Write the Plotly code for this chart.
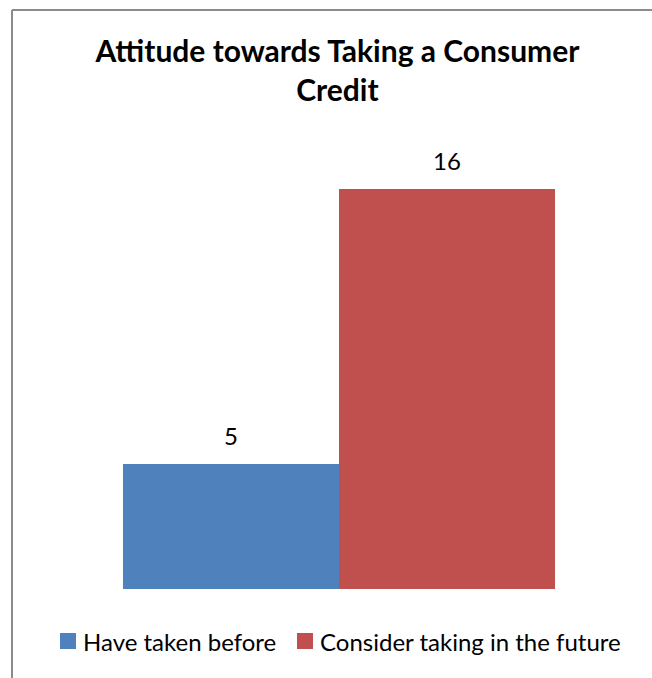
import plotly.graph_objects as go

# Survey result: attitude towards taking a consumer credit
series_names = ["Have taken before", "Consider taking in the future"]
series_values = [5, 16]
series_colors = ["#4F81BD", "#C0504D"]

FONT = "Lato, Carlito, sans-serif"
W, H = 652, 678
L, R, T, B = 45, 19, 139, 89
plot_w = W - L - R
plot_h = H - T - B


def px_x(px):
    """page pixel x -> paper coordinate"""
    return (px - L) / plot_w


def px_y(py):
    """page pixel y -> paper coordinate"""
    return (H - B - py) / plot_h


fig = go.Figure()
for i, (name, val, col) in enumerate(zip(series_names, series_values, series_colors)):
    fig.add_trace(go.Bar(
        x=[i], y=[val], name=name, width=1,
        marker=dict(color=col, line=dict(width=0)),
    ))
    # value label above each bar
    fig.add_annotation(
        x=i, y=val, text=str(val), showarrow=False,
        xanchor="center", yanchor="bottom", yshift=12,
        font=dict(family=FONT, size=24, color="#000000"),
    )

fig.update_layout(
    width=W, height=H,
    margin=dict(l=L, r=R, t=T, b=B, autoexpand=False),
    paper_bgcolor="white", plot_bgcolor="white",
    barmode="overlay",
    title=dict(
        text="<b>Attitude towards Taking a Consumer<br>Credit</b>",
        x=0.5175, xanchor="center", y=0.908, yanchor="top",
        font=dict(family=FONT, size=30, color="#000000"),
    ),
    xaxis=dict(visible=False, range=[-0.861, 1.861]),
    yaxis=dict(visible=False, range=[0, 18]),
    showlegend=False,
)

# legend row under the plot: colour key square followed by the series name
legend_x = [60, 297]
legend_cy = 641
for lx, name, col in zip(legend_x, series_names, series_colors):
    fig.add_shape(type="rect", xref="paper", yref="paper",
                  x0=px_x(lx), x1=px_x(lx + 16),
                  y0=px_y(legend_cy + 8), y1=px_y(legend_cy - 8),
                  fillcolor=col, line=dict(width=0))
    fig.add_annotation(xref="paper", yref="paper",
                       x=px_x(lx + 21), y=px_y(legend_cy),
                       xanchor="left", yanchor="middle", showarrow=False,
                       text=name, font=dict(family=FONT, size=24, color="#000000"))

# outer chart frame (top and left edges visible)
fig.add_shape(type="line", xref="paper", yref="paper",
              x0=px_x(12), x1=px_x(700), y0=px_y(10), y1=px_y(10),
              line=dict(color="#8C8C8C", width=2))
fig.add_shape(type="line", xref="paper", yref="paper",
              x0=px_x(12), x1=px_x(12), y0=px_y(10), y1=px_y(720),
              line=dict(color="#8C8C8C", width=2))

fig.write_html("out.html")
